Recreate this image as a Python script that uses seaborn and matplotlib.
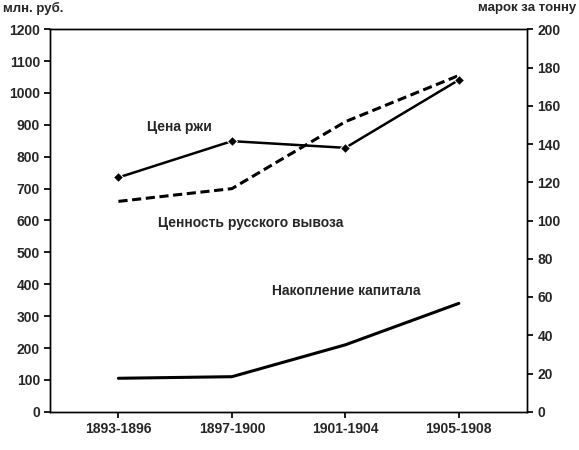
import matplotlib
matplotlib.use("Agg")
import pandas as pd
import seaborn as sns
import matplotlib.pyplot as plt

periods = ["1893-1896", "1897-1900", "1901-1904", "1905-1908"]
rye_price = [122.5, 141.5, 138, 173.5]          # марок за тонну (right axis)
export_value = [660, 700, 910, 1055]            # млн. руб.
capital = [105, 110, 210, 340]                  # млн. руб.

sns.set_theme(style="white")
plt.rcParams["font.family"] = ["Liberation Sans", "DejaVu Sans"]

df = pd.DataFrame({"period": periods, "rye": rye_price,
                   "export": export_value, "capital": capital})

fig, ax = plt.subplots(figsize=(5.79, 4.5), dpi=100)
fig.subplots_adjust(left=0.087, right=0.91, top=0.935, bottom=0.085)

sns.lineplot(data=df, x="period", y="export", ax=ax, color="black",
             linewidth=2.2, linestyle=(0, (3, 1.5)), sort=False)
sns.lineplot(data=df, x="period", y="capital", ax=ax, color="black",
             linewidth=2.2, sort=False)
ax.set_ylim(0, 1200)
ax.set_yticks(range(0, 1201, 100))
ax.set_xlim(-0.6, 3.6)
ax.set_xlabel("")
ax.set_ylabel("")

ax2 = ax.twinx()
sns.lineplot(data=df, x="period", y="rye", ax=ax2, color="black",
             linewidth=1.8, marker="D", markersize=5, sort=False)
ax2.set_ylim(0, 200)
ax2.set_yticks(range(0, 201, 20))
ax2.set_ylabel("")

for a in (ax, ax2):
    for s in a.spines.values():
        s.set_color("black")
        s.set_linewidth(1)
    a.tick_params(axis="both", labelsize=10, length=4, direction="out",
                  color="black", left=(a is ax), right=(a is ax2), bottom=True)
    for lbl in a.get_xticklabels() + a.get_yticklabels():
        lbl.set_fontweight("bold")

fig.text(0.005, 0.995, "млн. руб.", fontsize=9.5, fontweight="bold", va="top")
fig.text(0.995, 0.995, "марок за тонну", fontsize=9.5, fontweight="bold",
         va="top", ha="right")
ax.text(0.25, 880, "Цена ржи", fontsize=10, fontweight="bold")
ax.text(0.35, 580, "Ценность русского вывоза", fontsize=10, fontweight="bold")
ax.text(1.35, 365, "Накопление капитала", fontsize=10, fontweight="bold")

plt.savefig("out.png", dpi=100)
